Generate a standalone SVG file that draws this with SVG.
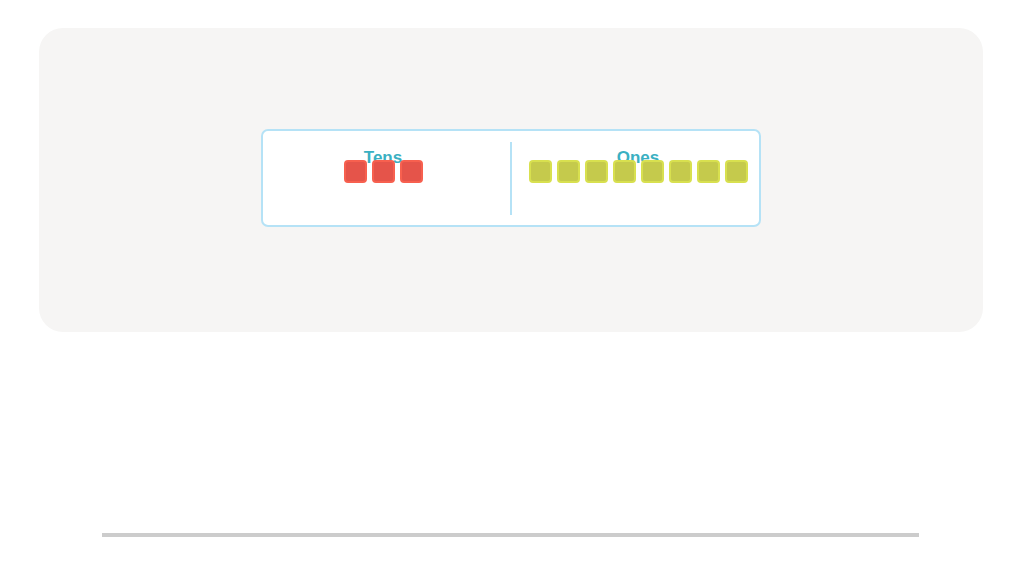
<svg xmlns="http://www.w3.org/2000/svg" width="1022" height="587" viewBox="0 0 1022 587">
<style>
.t{font-family:"Liberation Sans",Arial,sans-serif;font-size:17px;font-weight:bold;fill:#3ab0c2;text-anchor:middle}
.r{fill:#e5544a;stroke:#f7604f;stroke-width:2}
.y{fill:#c5ca4c;stroke:#d8e04f;stroke-width:2}
</style>
<rect x="0" y="0" width="1022" height="587" fill="#fff"/>
<rect x="39" y="28" width="944" height="304" rx="24" fill="#f6f5f4"/>
<g id="chart">
<rect x="262" y="130" width="498" height="96" rx="6" fill="#fff" stroke="#b5e2f6" stroke-width="2"/>
<line x1="511" y1="142" x2="511" y2="215" stroke="#b5e2f6" stroke-width="2"/>
</g>
<g id="tens">
<text class="t" x="383" y="163">Tens</text>
<rect class="r" x="345" y="161" width="21" height="21" rx="3"/>
<rect class="r" x="373" y="161" width="21" height="21" rx="3"/>
<rect class="r" x="401" y="161" width="21" height="21" rx="3"/>
</g>
<g id="ones">
<text class="t" x="638" y="163">Ones</text>
<rect class="y" x="530" y="161" width="21" height="21" rx="3"/>
<rect class="y" x="558" y="161" width="21" height="21" rx="3"/>
<rect class="y" x="586" y="161" width="21" height="21" rx="3"/>
<rect class="y" x="614" y="161" width="21" height="21" rx="3"/>
<rect class="y" x="642" y="161" width="21" height="21" rx="3"/>
<rect class="y" x="670" y="161" width="21" height="21" rx="3"/>
<rect class="y" x="698" y="161" width="21" height="21" rx="3"/>
<rect class="y" x="726" y="161" width="21" height="21" rx="3"/>
</g>
<g id="connectors"></g>
<line x1="102" y1="535" x2="919" y2="535" stroke="#cccccc" stroke-width="4"/>
</svg>
